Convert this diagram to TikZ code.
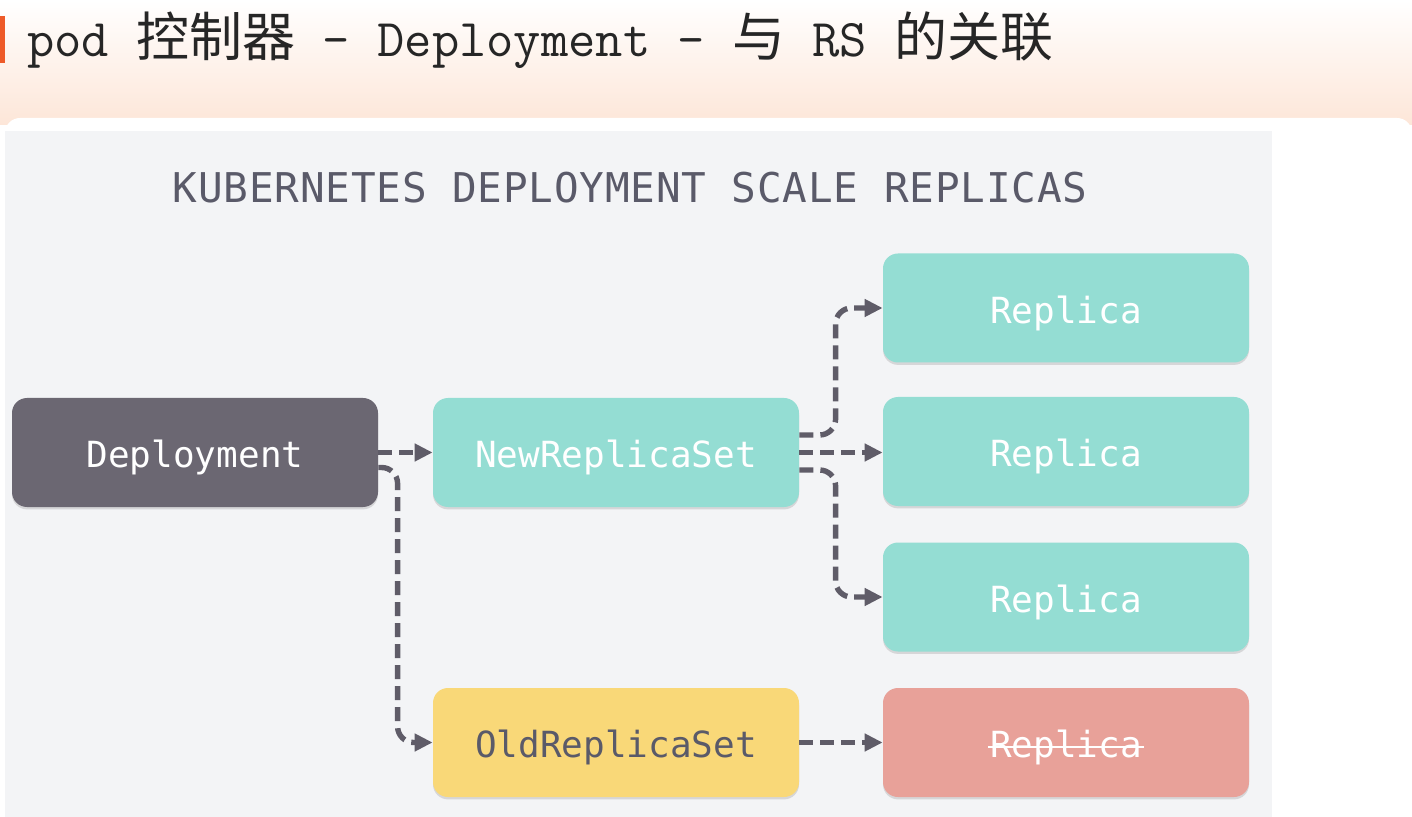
\documentclass[tikz,border=0pt]{standalone}
\usepackage{fontspec}
\usepackage{xcolor}
\usepackage{tikz}
\usetikzlibrary{arrows.meta,shadows}
\newfontfamily\cjk{Noto Sans CJK SC}
\newfontfamily\boxfont{DejaVu Sans Mono}
\newfontfamily\headfont[LetterSpace=2]{DejaVu Sans Mono}
\definecolor{depgray}{RGB}{107,103,114}
\definecolor{teal}{RGB}{148,221,211}
\definecolor{oldyellow}{RGB}{249,216,120}
\definecolor{gonered}{RGB}{232,161,153}
\definecolor{panel}{RGB}{243,244,246}
\definecolor{conngray}{RGB}{95,92,104}
\definecolor{headgray}{RGB}{90,90,105}
\definecolor{peach}{RGB}{253,230,216}
\definecolor{barorange}{RGB}{238,90,40}
\newcommand{\crossout}[1]{\setbox0\hbox{#1}\rlap{\kern-1pt\color{white}\rule[0.27em]{\dimexpr\wd0+2pt\relax}{1pt}}\box0}

\begin{document}
\begin{tikzpicture}[x=0.5pt, y=-0.5pt,
  box/.style={rounded corners=7.5pt, minimum width=183pt, minimum height=54.5pt, inner sep=0pt,
    text height=16.2pt, text depth=1.1pt, text=white,
    font=\boxfont\fontsize{18}{20}\selectfont,
    drop shadow={shadow xshift=0pt, shadow yshift=-1.2pt, opacity=0.25}},
  conn/.style={draw=conngray, line width=2.7pt, dash pattern=on 7pt off 3.5pt, rounded corners=8pt,
    -{Triangle[length=9pt,width=8.5pt]}}]
\useasboundingbox (0,0) rectangle (1412,817);
\shade[top color=white, bottom color=peach] (0,0) rectangle (1412,125);
\fill[barorange] (0,16) rectangle (5,63);
\fill[white, rounded corners=7.5pt] (5,817) |- (1412,118) [sharp corners] -- (1412,817) -- cycle;
\fill[panel] (5,131) rectangle (1272,817);
\node[anchor=base west, inner sep=0pt, text=black!85, font=\ttfamily\fontsize{26.5}{30}\selectfont] (title) at (27,57)
  {pod {\cjk 控制器} - Deployment - {\cjk 与} RS {\cjk 的关联}};
\node[anchor=base, inner sep=0pt, text=headgray, font=\headfont\fontsize{20.5}{24}\selectfont] (head) at (630,203)
  {KUBERNETES DEPLOYMENT SCALE REPLICAS};

\node[box, fill=depgray] (dep) at (195,452.5) {Deployment};
\node[box, fill=teal] (nrs) at (616,452.5) {NewReplicaSet};
\node[box, fill=oldyellow, text=headgray] (ors) at (616,742.5) {OldReplicaSet};
\node[box, fill=teal] (rep1) at (1066,308) {Replica};
\node[box, fill=teal] (rep2) at (1066,451.5) {Replica};
\node[box, fill=teal] (rep3) at (1066,597) {Replica};
\node[box, fill=gonered] (gone) at (1066,742.5) {\crossout{Replica}};

\draw[conn] (dep.east) -- (nrs.west);
\draw[conn] ([yshift=-7.5pt]dep.east) -| ([xshift=-17.5pt]ors.west) -- (ors.west);
\draw[conn] ([yshift=8.75pt]nrs.east) -| ([xshift=-23.5pt]rep1.west) -- (rep1.west);
\draw[conn] (nrs.east) -- (nrs.east -| rep2.west);
\draw[conn] ([yshift=-8.75pt]nrs.east) -| ([xshift=-23.5pt]rep3.west) -- (rep3.west);
\draw[conn] (ors.east) -- (gone.west);
\end{tikzpicture}
\end{document}
